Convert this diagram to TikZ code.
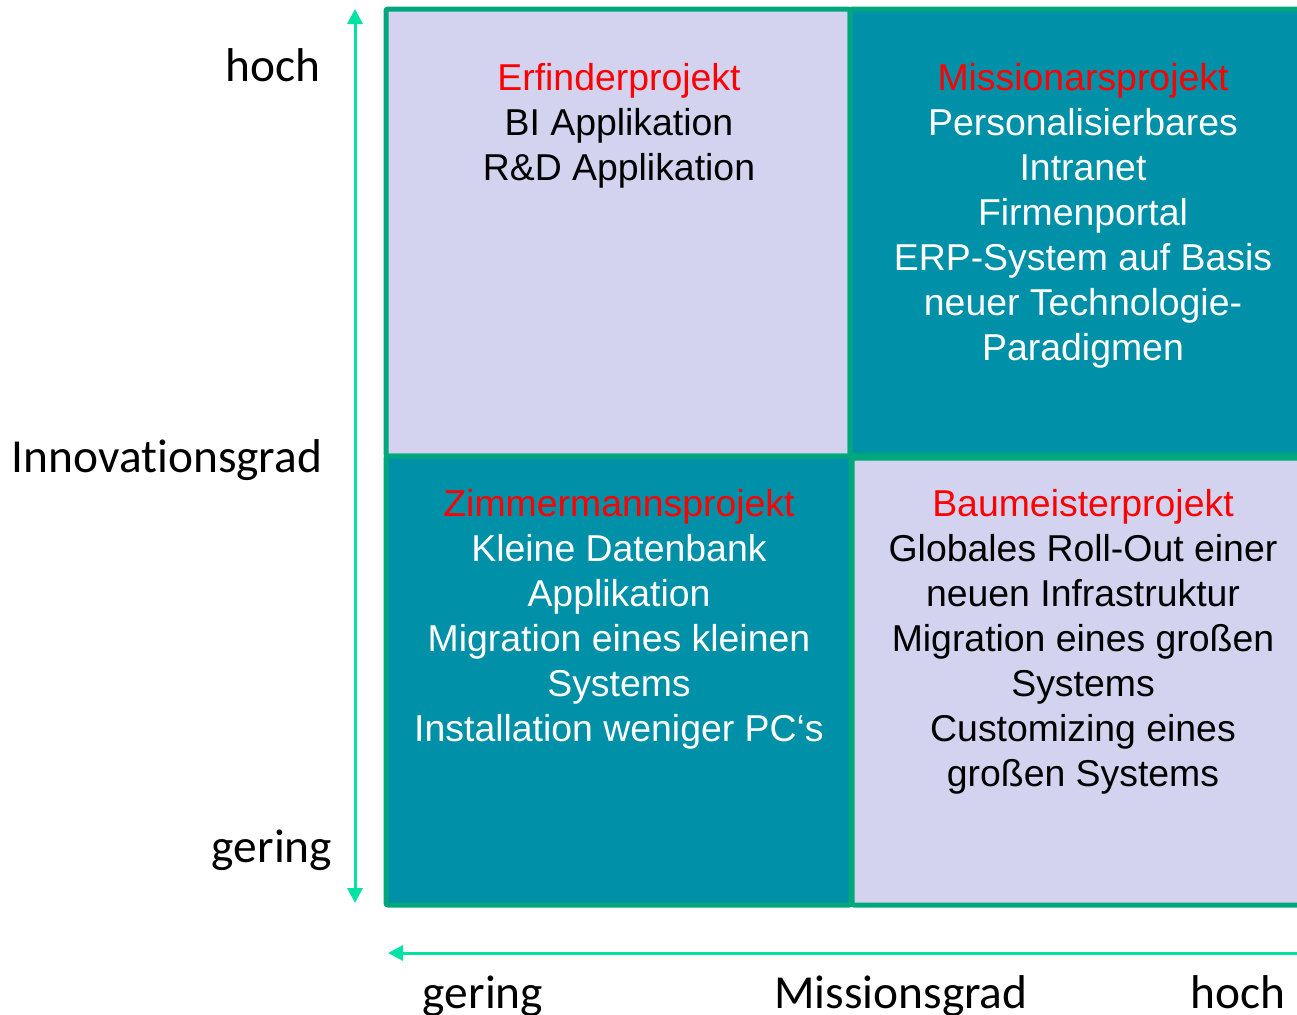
\documentclass[tikz,border=0pt]{standalone}
\usepackage{fontspec}
\setmainfont{Liberation Sans}
\newfontfamily\achsenschrift[Ligatures=NoCommon]{Carlito}
\usepackage{tikz}
\usetikzlibrary{positioning, arrows.meta}
\definecolor{rahmengruen}{HTML}{00A67C}
\definecolor{achsgruen}{HTML}{00E3A5}
\definecolor{feldlila}{HTML}{D3D3F0}
\definecolor{feldpetrol}{HTML}{0090A8}
\definecolor{titelrot}{HTML}{FF0000}

\begin{document}
\begin{tikzpicture}[
    x=0.5pt, y=-0.5pt,
    every node/.style={font=\fontsize{18.7}{22.5}\selectfont, align=center, inner sep=0pt},
    achse/.style={font=\achsenschrift\fontsize{23.7}{28}\selectfont, anchor=base},
    feld/.style={draw=rahmengruen, line width=2.5pt, rounded corners=1pt},
    pfeil/.style={draw=achsgruen, line width=1.5pt}
]
\useasboundingbox (0,0) rectangle (1297,1014);
\clip (0,0) rectangle (1297,1014);

% Quadranten
\draw[feld, fill=feldlila] (386,9) rectangle (850,456);
\draw[feld, fill=feldpetrol] (850,9) rectangle (1310,455);
\draw[feld, fill=feldpetrol] (386,456) rectangle (851,905);
\draw[feld, fill=feldlila] (852,458) rectangle (1310,905);

\node[anchor=north] (erfinder) at (619,63)
    {\textcolor{titelrot}{Erfinderprojekt}\\BI Applikation\\R\&D Applikation};
\node[anchor=north, text=white] (missionar) at (1083,63)
    {\textcolor{titelrot}{Missionarsprojekt}\\Personalisierbares\\Intranet\\Firmenportal\\
     ERP-System auf Basis\\neuer Technologie-\\Paradigmen};
\node[anchor=north, text=white] (zimmermann) at (619,489)
    {\textcolor{titelrot}{Zimmermannsprojekt}\\Kleine Datenbank\\Applikation\\
     Migration eines kleinen\\Systems\\Installation weniger PC‘s};
\node[anchor=north] (baumeister) at (1083,489)
    {\textcolor{titelrot}{Baumeisterprojekt}\\Globales Roll-Out einer\\neuen Infrastruktur\\
     Migration eines großen\\Systems\\Customizing eines\\großen Systems};

% Achsen
\coordinate (innoOben) at (355,9);
\coordinate (innoUnten) at (355,903);
\coordinate (missRechts) at (1310,953);
\coordinate (missLinks) at (388,953);
\draw[pfeil, {Triangle[length=7.5pt, width=7.5pt]}-{Triangle[length=7.5pt, width=7.5pt]}]
    (innoUnten) -- (innoOben);
\draw[pfeil, -{Triangle[length=7.5pt, width=7.5pt]}] (missRechts) -- (missLinks);

\node[achse] (yhoch) at (273,81) {hoch};
\node[achse] (ytitel) at (167,472) {Innovationsgrad};
\node[achse] (ygering) at (272,862) {gering};
\node[achse] (xgering) at (483,1008) {gering};
\node[achse] (xtitel) at (901,1008) {Missionsgrad};
\node[achse] (xhoch) at (1238,1008) {hoch};
\end{tikzpicture}
\end{document}
